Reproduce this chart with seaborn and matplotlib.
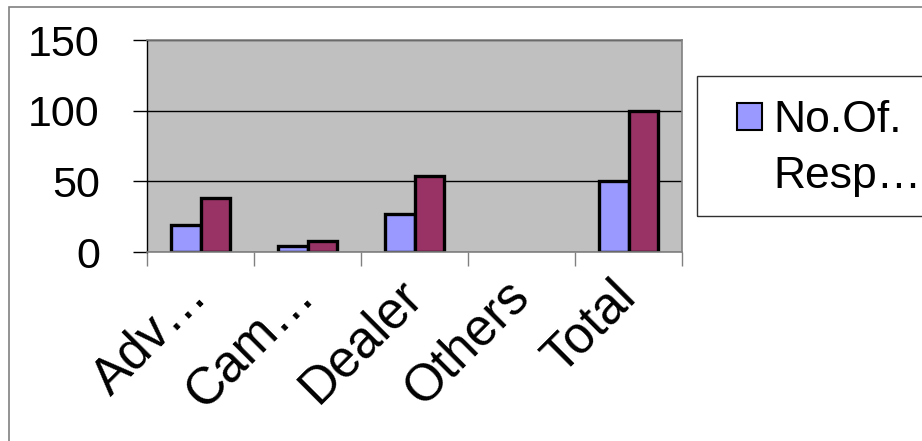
import pandas as pd
import seaborn as sns
import matplotlib.pyplot as plt
from matplotlib.patches import Patch, Rectangle

# data
sources = ['Adv…', 'Cam…', 'Dealer', 'Others', 'Total']
respondents = [19, 4, 27, 0, 50]
percentage = [38, 8, 54, 0, 100]
series_names = ['No.Of. Respondents', 'Percentage']
legend_lines = ['No.Of.', 'Resp…']  # legend text as it is cut in the picture
colors = ['#9999FF', '#993366']

df = pd.DataFrame({
    'Source': sources * 2,
    'Value': respondents + percentage,
    'Series': [series_names[0]] * len(sources) + [series_names[1]] * len(sources),
})

sns.set_theme(style='white')
plt.rcParams['font.family'] = ['Liberation Sans', 'DejaVu Sans']
plt.rcParams['text.color'] = 'black'
plt.rcParams['xtick.labelcolor'] = 'black'
plt.rcParams['ytick.labelcolor'] = 'black'

W, H = 922, 441
fig = plt.figure(figsize=(W / 100, H / 100), dpi=100)
ax = fig.add_axes([147 / W, 1 - 252 / H, (682 - 147) / W, (252 - 40) / H])

sns.barplot(data=df, x='Source', y='Value', hue='Series', palette=colors,
            saturation=1, width=0.56, edgecolor='black', linewidth=2.4,
            legend=False, ax=ax)

# empty bars (Others) should not leave a black stroke on the axis
for p in ax.patches:
    if p.get_height() == 0:
        p.set_linewidth(0)

ax.set_facecolor('#C0C0C0')
ax.set_xlabel('')
ax.set_ylabel('')
ax.set_ylim(0, 150)
ax.set_yticks([0, 50, 100, 150])
ax.set_xlim(-0.5, len(sources) - 0.5)
ax.set_axisbelow(True)
ax.yaxis.grid(True, color='black', linewidth=1)
ax.xaxis.grid(False)

for side in ['top', 'right', 'bottom']:
    ax.spines[side].set_color('#808080')
    ax.spines[side].set_linewidth(1.2)
ax.spines['left'].set_color('black')
ax.spines['left'].set_linewidth(1)

ax.tick_params(axis='y', which='major', direction='out', length=10, width=1,
               color='black', left=True, labelsize=31, pad=24)
ax.set_xticks([i - 0.5 for i in range(len(sources) + 1)], minor=True)
ax.tick_params(axis='x', which='minor', direction='out', length=10, width=1,
               color='#808080', bottom=True)
ax.tick_params(axis='x', which='major', length=0, labelsize=37, pad=26)
for lab in ax.get_xticklabels():
    lab.set_rotation(45)
    lab.set_rotation_mode('anchor')
    lab.set_ha('right')
    lab.set_va('center')

# legend box (cut by the right edge of the picture)
fig.patches.append(Rectangle((697 / W, 1 - 216 / H), 0.4, 140 / H,
                             transform=fig.transFigure, fill=False,
                             edgecolor='#303030', linewidth=1))
fig.legend(handles=[Patch(facecolor=colors[0], edgecolor='black', linewidth=1.5)],
           labels=[legend_lines[0]], loc='upper left',
           bbox_to_anchor=(737 / W, 1 - 100 / H), frameon=False, fontsize=32,
           borderpad=0, borderaxespad=0, handlelength=0.56, handleheight=0.56,
           handletextpad=0.25)
fig.text(773 / W, 1 - 188 / H, legend_lines[1], fontsize=32, va='baseline')

# outer chart frame
fig.patches.append(Rectangle((9 / W, -0.1), 1.5, 1.1 - 7 / H,
                             transform=fig.transFigure, fill=False,
                             edgecolor='#808080', linewidth=1.2))

fig.savefig('out.png', dpi=100, facecolor='white')
